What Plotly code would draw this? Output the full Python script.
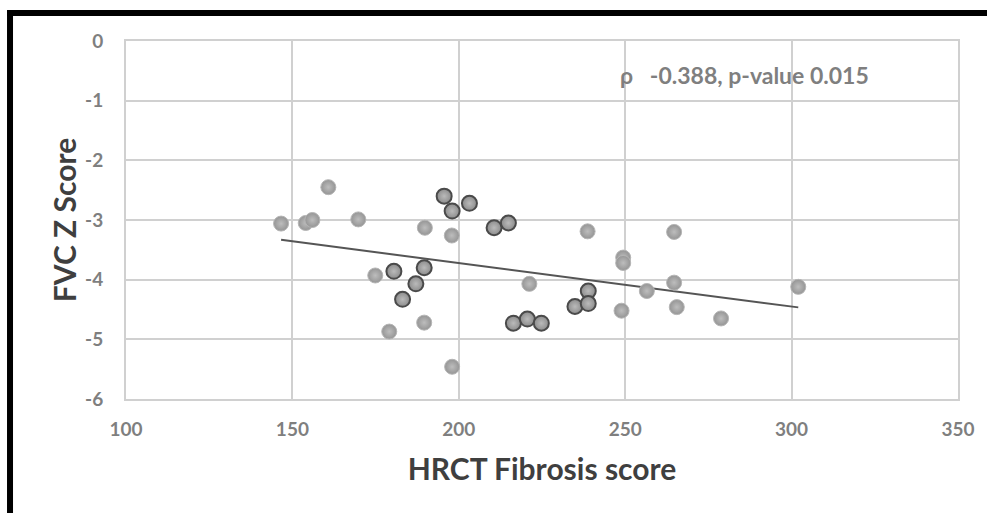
import numpy as np
import plotly.graph_objects as go

# HRCT fibrosis score vs FVC Z score
light_x = [146.6, 154.0, 156.0, 160.8, 169.8, 174.9, 179.1, 189.8, 189.6, 197.9, 198.0,
           221.2, 238.7, 249.4, 249.4, 248.9, 256.5, 264.7, 264.7, 265.5, 278.8, 302.0]
light_y = [-3.06, -3.05, -3.00, -2.45, -2.99, -3.93, -4.87, -3.13, -4.72, -3.26, -5.46,
           -4.07, -3.19, -3.63, -3.72, -4.52, -4.19, -3.20, -4.05, -4.46, -4.65, -4.12]
dark_x = [180.5, 183.1, 187.1, 189.6, 195.6, 198.0, 203.2, 210.6, 214.9, 216.4, 220.6,
          224.8, 234.9, 238.9, 238.9]
dark_y = [-3.86, -4.33, -4.07, -3.80, -2.60, -2.85, -2.72, -3.13, -3.05, -4.73, -4.66,
          -4.73, -4.45, -4.19, -4.40]

x_ticks = [100, 150, 200, 250, 300, 350]
y_ticks = [0, -1, -2, -3, -4, -5, -6]
y_tick_text = ["0", "-1", "-2", "-3", "-4", "-5", "-6"]
annot_text = "ρ   -0.388, p-value 0.015"

all_x = np.array(light_x + dark_x)
all_y = np.array(light_y + dark_y)
slope, intercept = np.polyfit(all_x, all_y, 1)
tx = np.array([all_x.min(), all_x.max()])
ty = slope * tx + intercept

fig = go.Figure()
fig.add_trace(go.Scatter(x=tx, y=ty, mode="lines",
                         line=dict(color="#555555", width=2), showlegend=False))
fig.add_trace(go.Scatter(x=light_x, y=light_y, mode="markers", showlegend=False,
                         marker=dict(size=15, color="#959595",
                                     gradient=dict(type="radial", color="#bdbdbd"),
                                     line=dict(color="#b5b5b5", width=1))))
fig.add_trace(go.Scatter(x=dark_x, y=dark_y, mode="markers", showlegend=False,
                         marker=dict(size=15, color="#8c8c8c",
                                     gradient=dict(type="radial", color="#bababa"),
                                     line=dict(color="#4a4a4a", width=2))))

grid = "#d0d0d0"
tick_font = dict(family="Lato", size=19, color="#7f7f7f", weight="bold")
title_font = dict(family="Lato", size=30, color="#3f3f3f", weight="bold")
fig.update_xaxes(range=[100, 350], tickvals=x_ticks, showgrid=True, gridcolor=grid,
                 gridwidth=2, showline=True, mirror=True, linecolor=grid, linewidth=2,
                 zeroline=False, ticks="outside", ticklen=12, tickcolor="rgba(0,0,0,0)",
                 tickfont=tick_font,
                 title=dict(text="HRCT Fibrosis score", standoff=20, font=title_font))
fig.update_yaxes(range=[-6, 0], tickvals=y_ticks, ticktext=y_tick_text, showgrid=True,
                 gridcolor=grid, gridwidth=2, showline=True, mirror=True, linecolor=grid,
                 linewidth=2, zeroline=False, ticks="outside", ticklen=17,
                 tickcolor="rgba(0,0,0,0)", tickfont=tick_font,
                 title=dict(text="FVC Z Score", standoff=0, font=title_font))

fig.add_annotation(x=0.896, y=0.905, xref="paper", yref="paper", xanchor="right",
                   yanchor="middle", text=annot_text, showarrow=False,
                   font=dict(family="Lato", size=23, color="#7f7f7f", weight="bold"))

# thick black frame (top and left edges)
fig.add_shape(type="line", xref="paper", yref="paper", x0=-0.143, x1=1.04,
              y0=1.078, y1=1.078, line=dict(color="black", width=6))
fig.add_shape(type="line", xref="paper", yref="paper", x0=-0.1394, x1=-0.1394,
              y0=1.086, y1=-0.33, line=dict(color="black", width=6))

fig.update_layout(width=987, height=513, plot_bgcolor="white", paper_bgcolor="white",
                  margin=dict(l=126, r=29, t=41, b=114), showlegend=False)
fig.write_html("out.html")
